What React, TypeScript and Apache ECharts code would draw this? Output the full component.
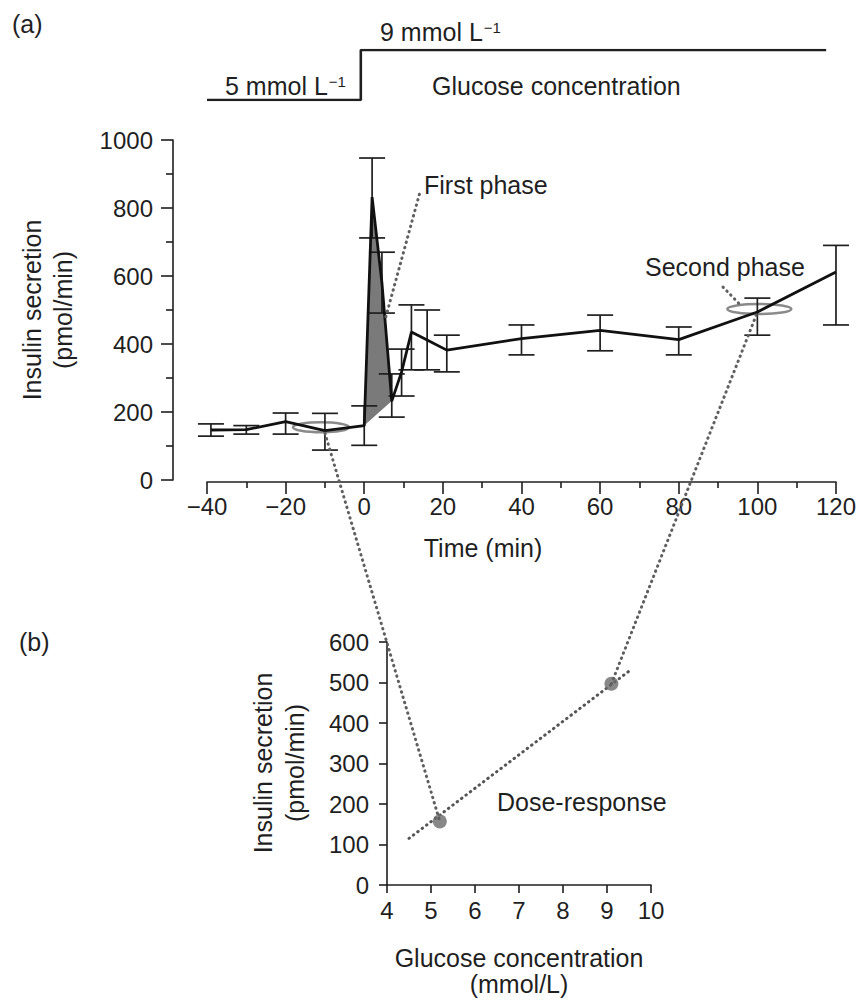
import React, { useEffect, useRef } from 'react';
import * as echarts from 'echarts';

const FONT = '"Liberation Sans", Arial, Helvetica, sans-serif';
const INK = '#1f1f1f';

// ---- Panel (a): glucose step protocol ----
const glucoseStepTime = [-40, -1, -1, 117];
const glucoseStepConc = [5, 5, 9, 9];

// ---- Panel (a): insulin secretion time course ----
const timeMin = [-39, -30, -20, -10, 0, 2, 4.5, 7, 9.5, 12, 16, 21, 40, 60, 80, 100, 120];
const insulinMean = [147, 148, 172, 145, 160, 832, 580, 232, 318, 435, 412, 382, 416, 440, 413, 494, 612];
const errLow = [129, 135, 135, 88, 102, 712, 491, 185, 247, 324, 324, 318, 368, 380, 368, 426, 456];
const errHigh = [165, 160, 197, 196, 218, 947, 670, 312, 385, 515, 500, 426, 456, 485, 450, 535, 690];

// first-phase shaded window (min)
const firstPhaseWindow = [0, 7];
// steady-state marks (ellipses) on panel (a)
const markTime = [-11, 100.5];
const markInsulin = [155, 503];
const firstPhaseAnchor = [5.5, 480];

// ---- Panel (b): dose-response ----
const doseGlucose = [5.2, 9.1];
const doseInsulin = [157, 497];
const fitGlucose = [4.5, 9.5];
const fitInsulin = [115, 528];

const axisLineStyle = { color: INK, width: 1.6 };
const tickLabel = { color: INK, fontSize: 24, fontFamily: FONT };
const fmtSigned = (v: number) => (v < 0 ? '\u2212' + -v : String(v));
const fmtPlain = (v: number) => String(v);

function buildOption(): any {
  return {
    animation: false,
    backgroundColor: '#ffffff',
    grid: [
      { left: 207, top: 50, width: 631, height: 50 },
      { left: 207, top: 140, width: 631, height: 340 },
      { left: 387, top: 642, width: 264, height: 243 },
    ],
    xAxis: [
      { gridIndex: 0, type: 'value', min: -40, max: 120, show: false },
      {
        gridIndex: 1, type: 'value', min: -40, max: 120, interval: 20, offset: 2,
        axisLine: { show: true, onZero: false, lineStyle: axisLineStyle },
        axisTick: { show: true, length: 12, lineStyle: axisLineStyle },
        minorTick: { show: true, splitNumber: 2, length: 6, lineStyle: axisLineStyle },
        splitLine: { show: false },
        minorSplitLine: { show: false },
        axisLabel: { ...tickLabel, margin: 12, formatter: fmtSigned },
      },
      {
        gridIndex: 2, type: 'value', min: 4, max: 10, interval: 1,
        axisLine: { show: true, onZero: false, lineStyle: axisLineStyle },
        axisTick: { show: true, length: 8, lineStyle: axisLineStyle },
        splitLine: { show: false },
        axisLabel: { ...tickLabel, margin: 13, formatter: fmtPlain },
      },
    ],
    yAxis: [
      { gridIndex: 0, type: 'value', min: 5, max: 9, show: false },
      {
        gridIndex: 1, type: 'value', min: 0, max: 1000, interval: 200, offset: 34,
        axisLine: { show: true, onZero: false, lineStyle: axisLineStyle },
        axisTick: { show: true, length: 12, lineStyle: axisLineStyle },
        minorTick: { show: true, splitNumber: 2, length: 7, lineStyle: axisLineStyle },
        splitLine: { show: false },
        minorSplitLine: { show: false },
        axisLabel: { ...tickLabel, margin: 20, formatter: fmtPlain },
      },
      {
        gridIndex: 2, type: 'value', min: 0, max: 600, interval: 100,
        axisLine: { show: true, onZero: false, lineStyle: axisLineStyle },
        axisTick: { show: true, length: 8, lineStyle: axisLineStyle },
        splitLine: { show: false },
        axisLabel: { ...tickLabel, margin: 18, formatter: fmtPlain },
      },
    ],
    series: [
      {
        type: 'line', xAxisIndex: 0, yAxisIndex: 0, symbol: 'none',
        data: glucoseStepTime.map((t, i) => [t, glucoseStepConc[i]]),
        lineStyle: { color: INK, width: 2.6 },
      },
      {
        type: 'custom', xAxisIndex: 1, yAxisIndex: 1, z: 2,
        data: [firstPhaseWindow],
        renderItem: (params: any, api: any) => {
          const pts: number[][] = [];
          timeMin.forEach((t, i) => {
            if (t >= firstPhaseWindow[0] && t <= firstPhaseWindow[1]) pts.push(api.coord([t, insulinMean[i]]));
          });
          return { type: 'polygon', shape: { points: pts }, style: { fill: '#7a7a7a' } };
        },
      },
      {
        type: 'custom', xAxisIndex: 1, yAxisIndex: 1, z: 3,
        data: markTime.map((t, i) => [t, markInsulin[i]]),
        renderItem: (params: any, api: any) => {
          const c = api.coord([api.value(0), api.value(1)]);
          const rx = params.dataIndex === 0 ? 28 : 32;
          return {
            type: 'ellipse', shape: { cx: c[0], cy: c[1], rx, ry: 5 },
            style: { fill: 'none', stroke: '#8a8a8a', lineWidth: 2.6 },
          };
        },
      },
      {
        type: 'custom', xAxisIndex: 1, yAxisIndex: 1, z: 4,
        encode: { x: 0, y: [1, 2] },
        data: timeMin.map((t, i) => [t, errLow[i], errHigh[i]]),
        renderItem: (params: any, api: any) => {
          const x = api.value(0);
          const lo = api.coord([x, api.value(1)]);
          const hi = api.coord([x, api.value(2)]);
          const w = 13;
          const style = { stroke: INK, lineWidth: 1.7 };
          return {
            type: 'group',
            children: [
              { type: 'line', shape: { x1: lo[0], y1: lo[1], x2: hi[0], y2: hi[1] }, style },
              { type: 'line', shape: { x1: hi[0] - w, y1: hi[1], x2: hi[0] + w, y2: hi[1] }, style },
              { type: 'line', shape: { x1: lo[0] - w, y1: lo[1], x2: lo[0] + w, y2: lo[1] }, style },
            ],
          };
        },
      },
      {
        type: 'line', xAxisIndex: 1, yAxisIndex: 1, symbol: 'none', z: 5,
        data: timeMin.map((t, i) => [t, insulinMean[i]]),
        lineStyle: { color: '#111', width: 2.8 },
      },
      {
        type: 'line', xAxisIndex: 2, yAxisIndex: 2, symbol: 'none', z: 3,
        data: fitGlucose.map((g, i) => [g, fitInsulin[i]]),
        lineStyle: { color: '#555', width: 3, type: [0.5, 5], cap: 'round' },
      },
      {
        type: 'scatter', xAxisIndex: 2, yAxisIndex: 2, symbol: 'circle', symbolSize: 14, z: 4,
        data: doseGlucose.map((g, i) => [g, doseInsulin[i]]),
        itemStyle: { color: '#6a6a6a' },
      },
    ],
  };
}

function txt(text: string, x: number, y: number, opts: any = {}) {
  const { rotation, ...style } = opts;
  return {
    type: 'text', x, y, rotation: rotation || 0, z: 20,
    style: {
      text, fill: INK, fontSize: 25, fontFamily: FONT,
      align: 'left', verticalAlign: 'middle', ...style,
    },
  };
}

function supText(main: string, sup: string, x: number, y: number) {
  return {
    type: 'text', x, y, z: 20,
    style: {
      text: `{m|${main}}{s|${sup}}`,
      align: 'left', verticalAlign: 'middle',
      rich: {
        m: { fontSize: 25, fontFamily: FONT, fill: INK, color: INK },
        s: { fontSize: 15, fontFamily: FONT, fill: INK, color: INK, verticalAlign: 'top', padding: [0, 0, 0, 1] },
      },
    },
  };
}

function dotted(a: number[], b: number[]) {
  return {
    type: 'line', z: 15,
    shape: { x1: a[0], y1: a[1], x2: b[0], y2: b[1] },
    style: { stroke: '#5f5f5f', lineWidth: 3, lineDash: [0.5, 5], lineCap: 'round' },
  };
}

export default function App() {
  const ref = useRef<HTMLDivElement>(null);
  useEffect(() => {
    if (!ref.current) return;
    const chart = echarts.init(ref.current, undefined, { renderer: 'svg' });
    chart.setOption(buildOption());

    const p = (g: number, xy: number[]) => chart.convertToPixel({ gridIndex: g } as any, xy) as unknown as number[];
    const m0 = p(1, [markTime[0], markInsulin[0]]);
    const m1 = p(1, [markTime[1], markInsulin[1]]);
    const d0 = p(2, [doseGlucose[0], doseInsulin[0]]);
    const d1 = p(2, [doseGlucose[1], doseInsulin[1]]);
    const fp = p(1, firstPhaseAnchor);

    const graphic = [
      txt('(a)', 12, 24),
      supText('9 mmol L', '\u22121', 380, 32),
      supText('5 mmol L', '\u22121', 225, 86),
      txt('Glucose concentration', 432, 86),
      txt('First phase', 424, 185),
      txt('Second phase', 645, 267),
      txt('Time (min)', 483, 548, { align: 'center' }),
      txt('Insulin secretion', 32, 310, { align: 'center', rotation: Math.PI / 2 }),
      txt('(pmol/min)', 63, 310, { align: 'center', rotation: Math.PI / 2 }),
      txt('(b)', 19, 642),
      txt('Dose-response', 497, 802),
      txt('Insulin secretion', 263, 763, { align: 'center', rotation: Math.PI / 2 }),
      txt('(pmol/min)', 295, 763, { align: 'center', rotation: Math.PI / 2 }),
      txt('Glucose concentration', 519, 958, { align: 'center' }),
      txt('(mmol/L)', 519, 984, { align: 'center' }),
      dotted([fp[0], fp[1]], [420, 192]),
      dotted([723, 287], [m1[0] - 18, m1[1] - 3]),
      dotted([m0[0] + 4, m0[1] + 6], d0),
      dotted([m1[0] - 3, m1[1] + 6], d1),
    ];
    chart.setOption({ graphic });
    return () => chart.dispose();
  }, []);
  return <div ref={ref} style={{ position: 'fixed', left: 0, top: 0, width: 859, height: 1002 }} />;
}
